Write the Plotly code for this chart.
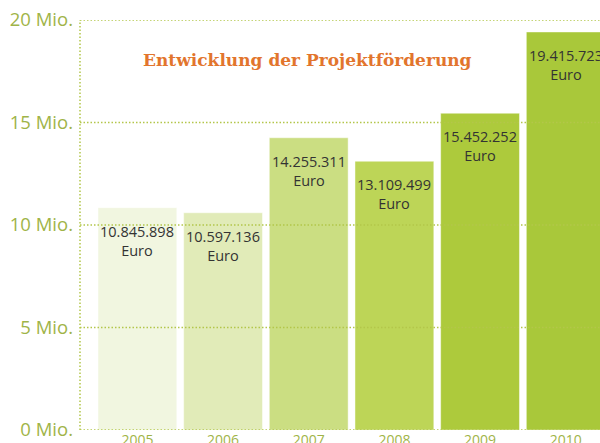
import plotly.graph_objects as go

years = ["2005", "2006", "2007", "2008", "2009", "2010"]
values = [10845898, 10597136, 14255311, 13109499, 15452252, 19415723]
bar_colors = ["#f1f6e0", "#e1ebb8", "#cbde82", "#bdd557", "#adca3c", "#a9c83a"]
tick_vals = [0, 5, 10, 15, 20]
tick_text = ["0 Mio.", "5 Mio.", "10 Mio.", "15 Mio.", "20 Mio."]
title_text = "Entwicklung der Projektförderung"

mio = [v / 1e6 for v in values]


def fmt(v):
    return f"{v:,}".replace(",", ".")


grid_color = "#b3c64a"
label_color = "#9fb448"

fig = go.Figure()
fig.add_trace(go.Bar(
    x=list(range(len(years))),
    y=mio,
    width=0.92,
    marker=dict(color=bar_colors, line=dict(color="rgba(255,255,255,0.45)", width=1)),
    hoverinfo="skip",
))

shapes = []
for t in tick_vals:
    shapes.append(dict(type="line", xref="paper", yref="y", x0=0, x1=1, y0=t, y1=t,
                       line=dict(color=grid_color, width=1.5, dash="1.5px,2px"), layer="above"))
shapes.append(dict(type="line", xref="paper", yref="y", x0=0, x1=0, y0=tick_vals[0], y1=tick_vals[-1],
                   line=dict(color=grid_color, width=1.5, dash="1.5px,2px"), layer="above"))

annotations = []
for i, v in enumerate(values):
    annotations.append(dict(x=i, y=mio[i], xref="x", yref="y", text=fmt(v) + "<br>Euro",
                            showarrow=False, yanchor="top", yshift=-12,
                            font=dict(family="Open Sans", size=14.5, color="#333333")))
annotations.append(dict(x=0.438, y=1 - (60 - 20) / (443 - 20 - 13), xref="paper", yref="paper",
                        text="<b>" + title_text + "</b>",
                        showarrow=False, xanchor="center", yanchor="middle",
                        font=dict(family="DejaVu Serif", size=17, color="#e2752d")))

fig.update_layout(
    width=600, height=443,
    margin=dict(l=80, r=0, t=20, b=13),
    paper_bgcolor="white", plot_bgcolor="white",
    showlegend=False,
    shapes=shapes,
    annotations=annotations,
    xaxis=dict(
        range=[-0.67, 5.4],
        tickmode="array", tickvals=list(range(len(years))), ticktext=years,
        showgrid=False, zeroline=False, showline=False, ticks="",
        tickfont=dict(family="Open Sans", size=14, color=label_color),
        automargin=False,
    ),
    yaxis=dict(
        range=[0, 20],
        tickmode="array", tickvals=tick_vals, ticktext=tick_text,
        showgrid=False, zeroline=False, showline=False, ticks="",
        ticklabelstandoff=6,
        tickfont=dict(family="Open Sans", size=18.5, color=label_color),
        automargin=False,
    ),
)

fig.write_html("out.html", config={"displayModeBar": False},
               post_script="document.body.style.margin='0';document.body.style.overflow='hidden';")
